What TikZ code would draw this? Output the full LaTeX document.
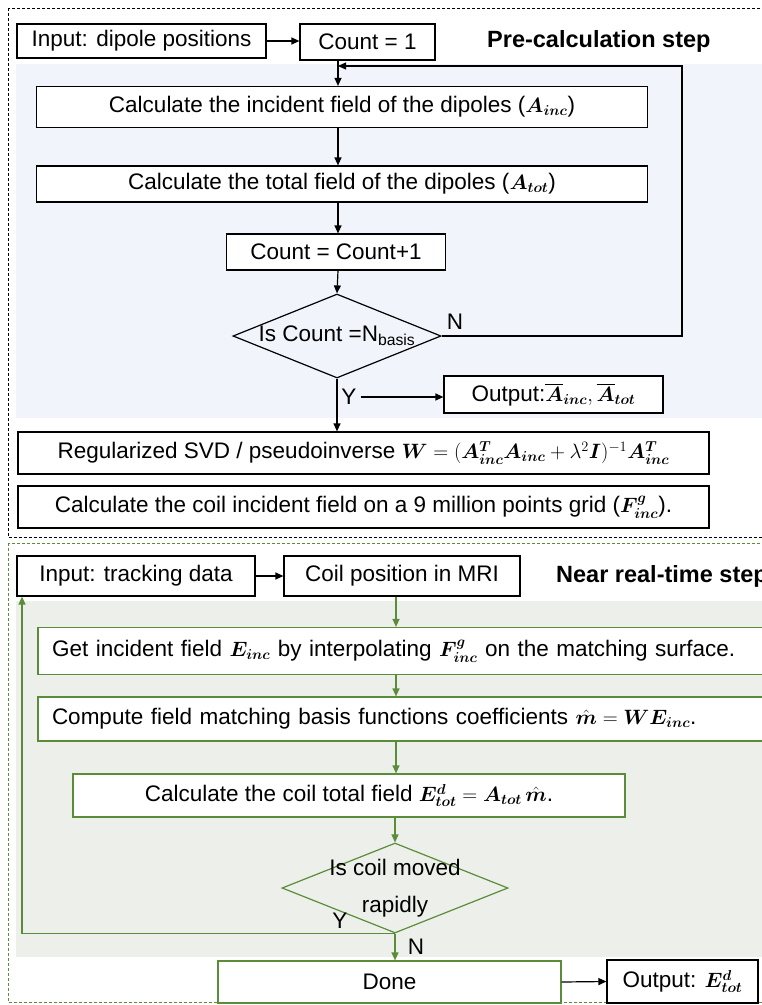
\documentclass[tikz,border=0pt]{standalone}
\usepackage[no-math]{fontspec}
\setmainfont{Liberation Sans}
\usepackage{amsmath,bm}
\usetikzlibrary{arrows.meta,shapes.geometric,calc}
\definecolor{dgreen}{HTML}{5B8C3A}
\definecolor{bgblue}{HTML}{F1F4FA}
\definecolor{bggreen}{HTML}{EDF0EA}
\begin{document}
\begin{tikzpicture}[x=1pt,y=-1pt,
  font=\fontsize{22.5}{27}\selectfont,
  box/.style={draw,line width=1.2pt,fill=white,inner sep=0pt},
  gbox/.style={box,draw=dgreen},
  dia/.style={draw,diamond,line width=1.2pt,inner sep=0pt},
  title/.style={font=\fontsize{23.5}{27}\selectfont\bfseries,inner sep=0pt},
  lab/.style={inner sep=0pt},
  arr/.style={-{Triangle[length=8pt,width=7pt]},line width=1.2pt},
  garr/.style={arr,draw=dgreen,color=dgreen},
  frame/.style={line width=1pt,dash pattern=on 3pt off 2pt}
]
\useasboundingbox (0,0) rectangle (762,1005);
% backgrounds
\fill[bgblue] (16,64) rectangle (762,418);
\fill[bggreen] (16,601) rectangle (762,957);
\draw[frame] (8,8) rectangle (780,537);
\draw[frame,draw=dgreen] (8,543) rectangle (780,1002);

% column coordinates
\coordinate (c1) at (338,0);
\coordinate (c2) at (396,0);

% ---- top part ----
\node[box,minimum width=249pt,minimum height=34pt] (in1) at (141.5,41) {Input: dipole positions};
\node[box,minimum width=135pt,minimum height=36pt] (cnt1) at (367.5,42) {Count = 1};
\node[title,anchor=west] (t1) at (487,41) {Pre-calculation step};
\node[box,minimum width=611pt,minimum height=41pt] (calc1) at (342,107) {Calculate the incident field of the dipoles ($\bm{A}_{\bm{inc}}$)};
\node[box,minimum width=611pt,minimum height=36pt] (calc2) at (342,184) {Calculate the total field of the dipoles ($\bm{A}_{\bm{tot}}$)};
\node[box,minimum width=219pt,minimum height=36pt] (cnt2) at (336,252) {Count = Count+1};
\node[dia,minimum width=208pt,minimum height=84pt,label={[lab]center:Is Count =N\textsubscript{basis}}] (dia1) at (337,336) {};
\node[lab] (n1) at (455,322) {N};
\node[lab] (y1) at (349,397) {Y};
\node[box,minimum width=219pt,minimum height=37pt] (out1) at (553.5,394.5) {Output:$\overline{\bm{A}}_{\bm{inc}},\overline{\bm{A}}_{\bm{tot}}$};
\node[box,minimum width=691pt,minimum height=42pt] (reg) at (363.5,453) {Regularized SVD / pseudoinverse $\bm{W}=(\bm{A}_{\bm{inc}}^{\bm{T}}\bm{A}_{\bm{inc}}+\lambda^2\bm{I})^{-1}\bm{A}_{\bm{inc}}^{\bm{T}}$};
\node[box,minimum width=691pt,minimum height=42pt] (coil) at (363.5,507) {Calculate the coil incident field on a 9 million points grid ($\bm{F}_{\bm{inc}}^{\bm{g}}$).};

\coordinate (fb) at (682,66);
\draw[arr] (in1.east) -- (cnt1.west |- in1.east);
\draw[arr] (cnt1.south -| c1) -- (calc1.north -| c1);
\draw[arr] (calc1.south -| c1) -- (calc2.north -| c1);
\draw[arr] (calc2.south -| c1) -- (cnt2.north -| c1);
\draw[arr] (cnt2.south -| c1) -- (dia1.north);
\draw[arr] (dia1.east) -| (fb) -- (fb -| c1);
\draw[arr] (y1.east) ++(4,0) -- (out1.west |- y1.east);
\draw[arr] (dia1.south) -- (dia1.south |- reg.north);

% ---- bottom part ----
\node[box,minimum width=238pt,minimum height=40pt] (in2) at (136,576) {Input: tracking data};
\node[box,minimum width=236pt,minimum height=40pt] (cp) at (402,576) {Coil position in MRI};
\node[title,anchor=west] (t2) at (556,576) {Near real-time step};
\node[gbox,minimum width=726pt,minimum height=47pt,text width=698pt,align=left] (gi) at (401,651) {Get incident field $\bm{E}_{\bm{inc}}$ by interpolating $\bm{F}_{\bm{inc}}^{\bm{g}}$ on the matching surface.};
\node[gbox,minimum width=726pt,minimum height=44pt,text width=698pt,align=left] (cf) at (401,719) {Compute field matching basis functions coefficients $\hat{\bm{m}}=\bm{W}\bm{E}_{\bm{inc}}$.};
\node[gbox,minimum width=552pt,minimum height=43pt] (ct) at (349,795.5) {Calculate the coil total field $\bm{E}_{\bm{tot}}^{\bm{d}}=\bm{A}_{\bm{tot}}\,\hat{\bm{m}}$.};
\node[dia,draw=dgreen,minimum width=226pt,minimum height=90pt,label={[lab,align=center,font=\fontsize{22.5}{37}\selectfont]center:Is coil moved\\rapidly}] (dia2) at (395,888) {};
\node[lab] (y2) at (340,921) {Y};
\node[lab] (n2) at (416,947) {N};
\node[gbox,minimum width=343pt,minimum height=42pt] (done) at (389.5,982) {Done};
\node[box,minimum width=151pt,minimum height=43pt] (out2) at (682.5,981.5) {Output: $\bm{E}_{\bm{tot}}^{\bm{d}}$};

\coordinate (yl) at (22,933);
\draw[arr] (in2.east) -- (cp.west);
\draw[garr] (cp.south -| c2) -- (gi.north -| c2);
\draw[garr] (gi.south -| c2) -- (cf.north -| c2);
\draw[garr] (cf.south -| c2) -- (ct.north -| c2);
\draw[garr] (ct.south -| dia2) -- (dia2.north);
\draw[garr] (dia2.south) -- (dia2.south -| yl) -- (yl |- in2.south);
\draw[garr] (dia2.south) -- (dia2.south |- done.north);
\draw[arr] (done.east) -- (out2.west);
\end{tikzpicture}
\end{document}
